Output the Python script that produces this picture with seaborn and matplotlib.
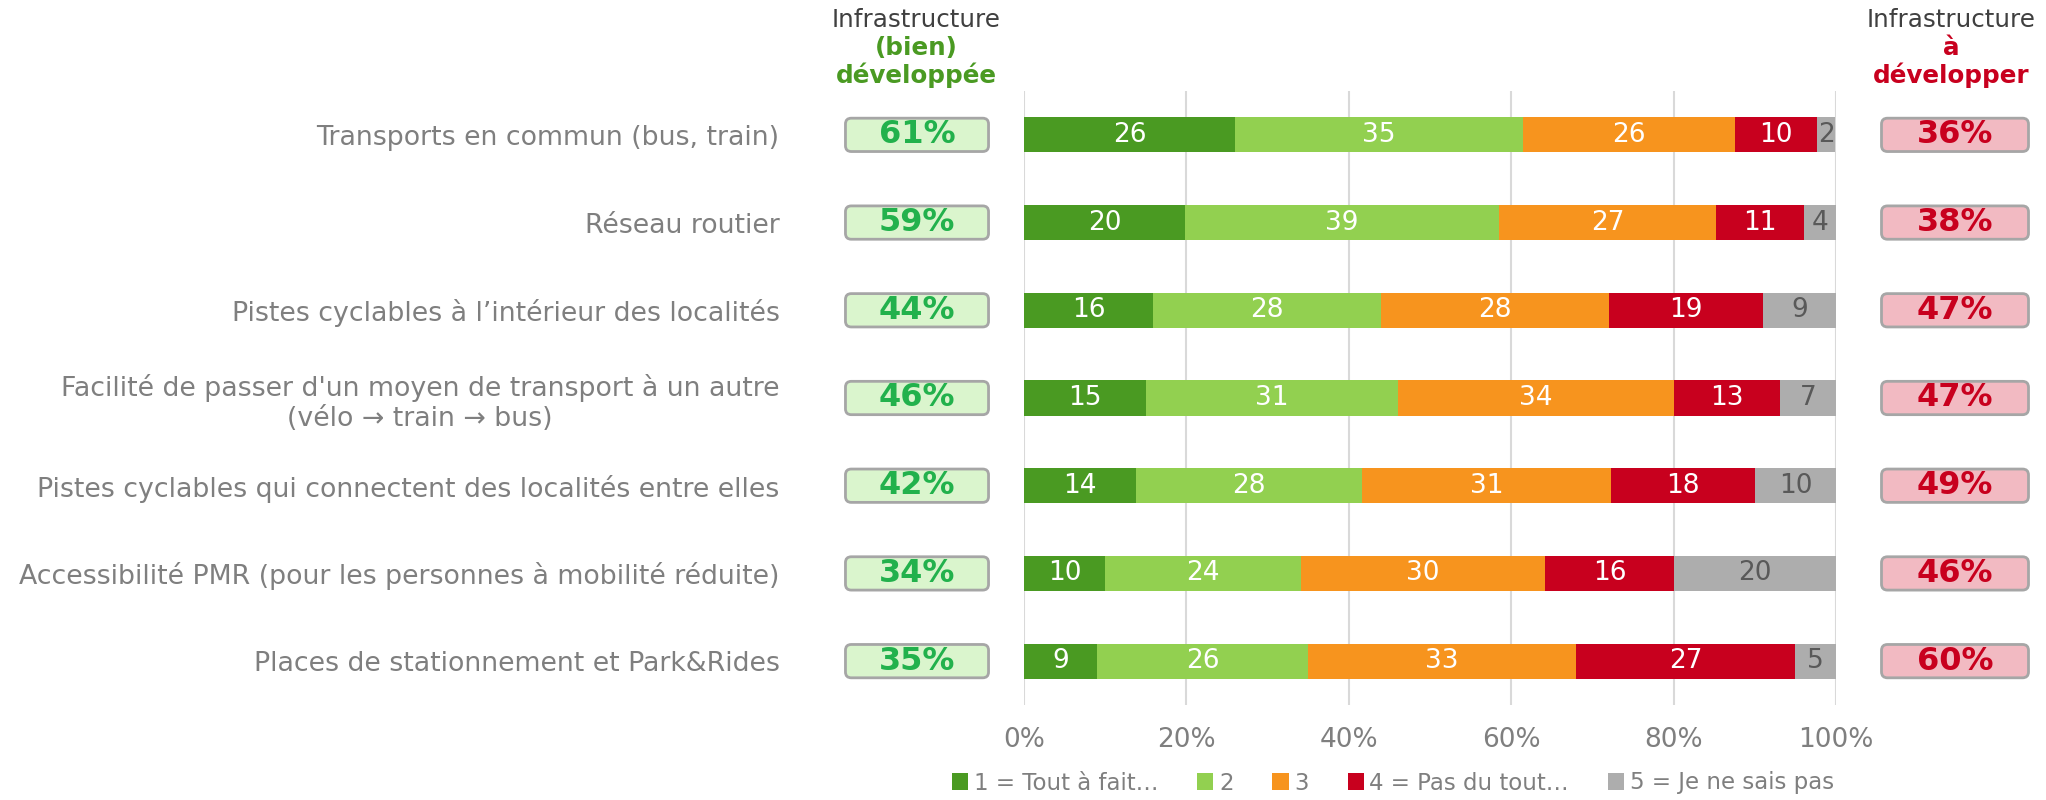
import numpy as np
import pandas as pd
import matplotlib
matplotlib.use("Agg")
import matplotlib.pyplot as plt
import seaborn as sns
from matplotlib.patches import FancyBboxPatch, Patch

# --- data ---
categories = [
    "Transports en commun (bus, train)",
    "Réseau routier",
    "Pistes cyclables à l’intérieur des localités",
    "Facilité de passer d'un moyen de transport à un autre\n(vélo → train → bus)",
    "Pistes cyclables qui connectent des localités entre elles",
    "Accessibilité PMR (pour les personnes à mobilité réduite)",
    "Places de stationnement et Park&Rides",
]
s1 = [26.0, 19.8, 15.9, 15.0, 13.8, 10.0, 9.0]
s2 = [35.4, 38.7, 28.1, 31.0, 27.8, 24.1, 26.0]
s3 = [26.2, 26.7, 28.0, 34.1, 30.7, 30.1, 33.0]
s4 = [10.1, 10.9, 19.0, 13.0, 17.7, 15.9, 27.0]
s5 = [2.2, 3.9, 9.0, 6.9, 10.0, 19.9, 5.0]
good_pct = [61, 59, 44, 46, 42, 34, 35]
bad_pct = [36, 38, 47, 47, 49, 46, 60]
legend_labels = ["1 = Tout à fait…", "2", "3", "4 = Pas du tout…", "5 = Je ne sais pas"]
xticks = [0, 20, 40, 60, 80, 100]

colors = ["#4A9A22", "#92D050", "#F7941E", "#C8001E", "#ADADAD"]
label_colors = ["white", "white", "white", "white", "#595959"]
grey_txt = "#7F7F7F"

sns.set_style("white")
plt.rcParams["font.family"] = ["DejaVu Sans"]

W, H = 2046, 800
fig = plt.figure(figsize=(W / 100, H / 100), dpi=100)

ax_l, ax_r, ax_t, ax_b = 1024, 1836, 91, 705
ax = fig.add_axes([ax_l / W, 1 - ax_b / H, (ax_r - ax_l) / W, (ax_b - ax_t) / H])

series = [s1, s2, s3, s4, s5]
df = pd.DataFrame({"cat": categories})
for k, s in enumerate(series):
    df[f"s{k+1}"] = s
cum = df[[f"s{k+1}" for k in range(5)]].cumsum(axis=1)

# stacked bars: draw cumulative totals from longest to shortest
for k in range(4, -1, -1):
    sns.barplot(x=cum.iloc[:, k], y=df["cat"], color=colors[k], orient="h",
                width=0.4, saturation=1, linewidth=0, ax=ax)

for k, s in enumerate(series):
    for i, v in enumerate(s):
        start = cum.iloc[i, k] - v
        ax.text(start + v / 2, i, f"{v:.0f}", ha="center", va="center",
                fontsize=19, color=label_colors[k])

ax.set_xlim(0, 100)
ax.set_ylim(6.5, -0.5)
ax.set_xticks(xticks)
ax.set_xticklabels([f"{t}%" for t in xticks])
ax.set_xlabel("")
ax.set_ylabel("")
ax.grid(axis="x", color="#D9D9D9", linewidth=1.5)
ax.grid(axis="y", visible=False)
ax.set_axisbelow(True)
for sp in ax.spines.values():
    sp.set_visible(False)
ax.tick_params(axis="x", length=0, pad=16, labelsize=19, labelcolor=grey_txt)
ax.tick_params(axis="y", length=0, pad=176, labelsize=19.3, labelcolor=grey_txt)
for lbl in ax.get_yticklabels():
    lbl.set_multialignment("center")


def box_column(x0, x1, values, face, txt_color):
    bx = fig.add_axes([x0 / W, 1 - ax_b / H, (x1 - x0) / W, (ax_b - ax_t) / H])
    bx.set_xlim(0, 1)
    bx.set_ylim(6.5, -0.5)
    bx.axis("off")
    aspect = (x1 - x0) / ((ax_b - ax_t) / 7)
    for i, v in enumerate(values):
        bx.add_patch(FancyBboxPatch((0.01, i - 0.19), 0.98, 0.38,
                                    boxstyle="round,pad=0,rounding_size=0.04",
                                    mutation_aspect=aspect, facecolor=face,
                                    edgecolor="#A6A6A6", linewidth=2))
        bx.text(0.5, i, f"{v}%", ha="center", va="center", fontsize=23,
                fontweight="bold", color=txt_color)


box_column(844, 990, good_pct, "#DAF5CD", "#22B14C")
box_column(1880, 2030, bad_pct, "#F2BAC2", "#C8001E")

# column headers
fig.text(916 / W, 1 - 20 / H, "Infrastructure", ha="center", va="center",
         fontsize=17.7, color="#404040")
fig.text(916 / W, 1 - 48 / H, "(bien)", ha="center", va="center",
         fontsize=17.7, fontweight="bold", color="#4A9A22")
fig.text(916 / W, 1 - 75 / H, "développée", ha="center", va="center",
         fontsize=17.7, fontweight="bold", color="#4A9A22")
fig.text(1951 / W, 1 - 20 / H, "Infrastructure", ha="center", va="center",
         fontsize=17.7, color="#404040")
fig.text(1951 / W, 1 - 48 / H, "à", ha="center", va="center",
         fontsize=17.7, fontweight="bold", color="#C8001E")
fig.text(1951 / W, 1 - 75 / H, "développer", ha="center", va="center",
         fontsize=17.7, fontweight="bold", color="#C8001E")

handles = [Patch(facecolor=c, edgecolor="none") for c in colors]
fig.legend(handles, legend_labels, loc="center", bbox_to_anchor=(1393 / W, 1 - 783 / H),
           ncol=5, frameon=False, fontsize=16.5, handlelength=0.7, handleheight=0.7,
           handletextpad=0.25, columnspacing=1.7, labelcolor=grey_txt)

fig.savefig("out.png", dpi=100)
